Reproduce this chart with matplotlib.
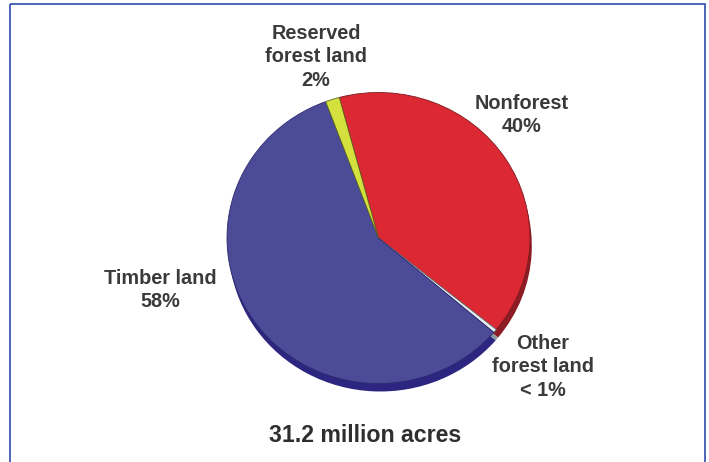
import matplotlib
matplotlib.use('Agg')
from matplotlib import pyplot as plt
from matplotlib.patches import Rectangle

# land area shares, clockwise from the top of the pie
labels = ['Nonforest', 'Other forest land', 'Timber land', 'Reserved forest land']
shares = [40.0, 0.4, 58.1, 1.5]
face_colors = ['#dc2832', '#eef2f2', '#4b4b97', '#d3e03e']
side_colors = ['#8e1c24', '#8a9aa0', '#2c2680', '#8a9428']
edge_colors = ['#7a1a20', '#6a7a80', '#2c2a70', '#5a6420']

label_text = ['Nonforest\n40%', 'Other\nforest land\n< 1%', 'Timber land\n58%',
              'Reserved\nforest land\n2%']
label_xy = [(522, 115), (543, 367), (160, 290), (316, 57)]
total_text = '31.2 million acres'

W, H = 709, 462
fig = plt.figure(figsize=(W / 100, H / 100), dpi=100)
fig.patch.set_facecolor('white')

# background axes in pixel units for the frame and the labels
bg = fig.add_axes([0, 0, 1, 1])
bg.set_xlim(0, W)
bg.set_ylim(H, 0)
bg.axis('off')
bg.add_patch(Rectangle((10, 4), 695, 480, fill=False, edgecolor='#2f4cae',
                       linewidth=1.2, clip_on=False))

# pie axes, sized so the pie is a slightly squashed ellipse
cx, cy = 378.5, 238
rx, ry = 151.5, 145.5
pad = 1.15
ax = fig.add_axes([(cx - rx * pad) / W, (H - cy - ry * pad) / H,
                   2 * rx * pad / W, 2 * ry * pad / H])

# side of the disc: the same pie pushed down a few pixels in darker colours
ax.pie(shares, colors=side_colors, startangle=105, counterclock=False,
       center=(0.012, -0.055), wedgeprops=dict(linewidth=0))
wedges, _ = ax.pie(shares, colors=face_colors, startangle=105, counterclock=False,
                   wedgeprops=dict(linewidth=0.6))
for w, ec in zip(wedges, edge_colors):
    w.set_edgecolor(ec)

ax.set_aspect('auto')
ax.set_xlim(-pad, pad)
ax.set_ylim(-pad, pad)
ax.axis('off')

for txt, (x, y) in zip(label_text, label_xy):
    bg.text(x, y, txt, ha='center', va='center', fontsize=14.3, fontweight='bold',
            family='Liberation Sans', color='#3a3a3a', linespacing=1.3)

bg.text(365, 436, total_text, ha='center', va='center', fontsize=16.7,
        fontweight='bold', family='Liberation Sans', color='#2e2e2e')

fig.savefig('out.png', dpi=100)
